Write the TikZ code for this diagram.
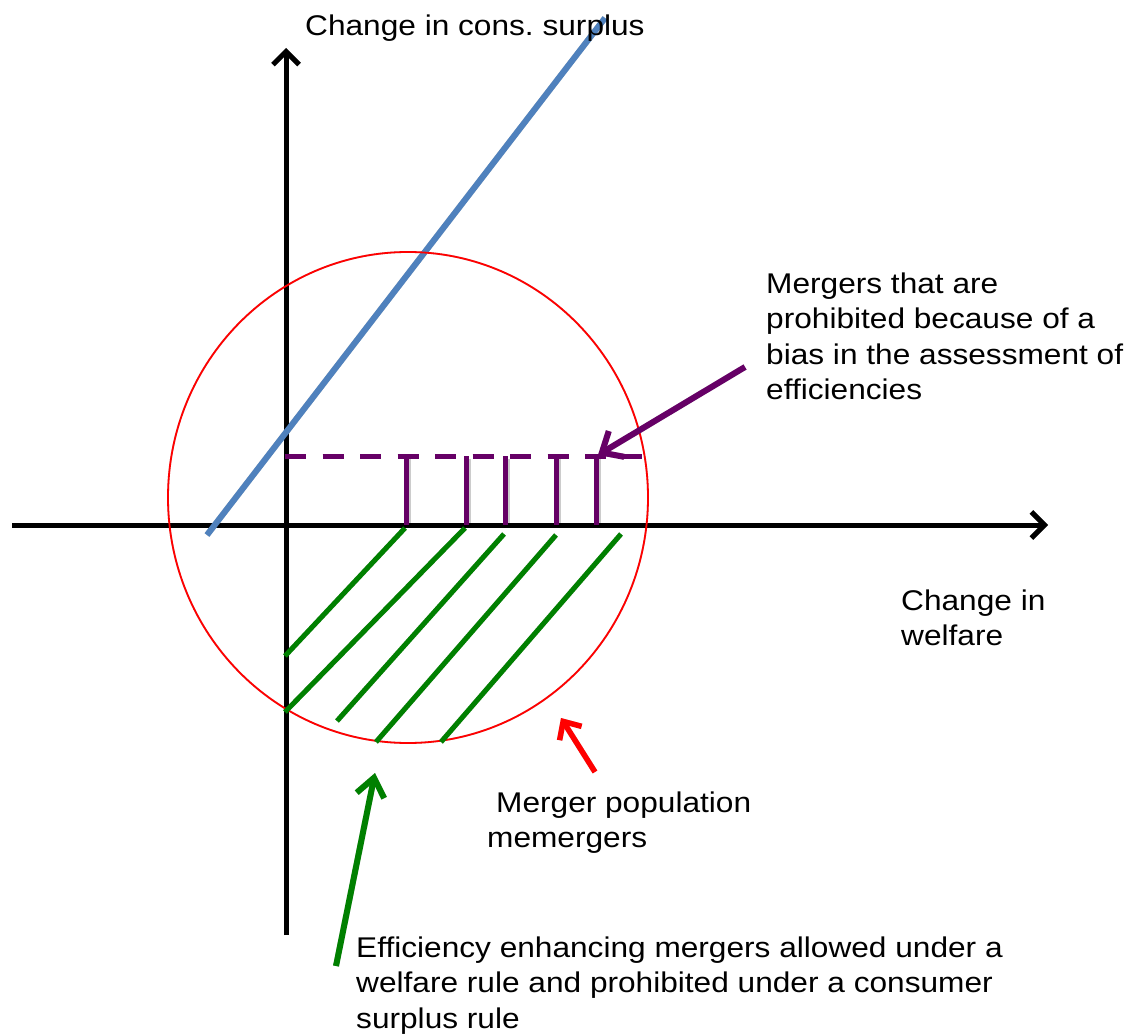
\documentclass[tikz,border=0pt]{standalone}
\usepackage{fontspec}
\setmainfont{Liberation Sans}[FakeStretch=1.11]
\frenchspacing
\usetikzlibrary{arrows.meta}
\definecolor{lineblue}{RGB}{79,129,189}
\definecolor{mpurple}{RGB}{102,0,102}
\definecolor{mgreen}{RGB}{0,128,0}
\newcommand\figlines{%
  \draw[axline,-{Straight Barb[length=13pt,width=26pt]}] (ybot) -- (ytop);
  \draw[axline,-{Straight Barb[length=13pt,width=26pt]}] (xl) -- (xr);
  \draw[blueline] (b1) -- (b2);
  \draw[circline] (C) ellipse [x radius=240, y radius=245.5];
  \draw[purpline,dash pattern=on 21pt off 16.5pt] (d1) -- (d2);
  \foreach \x in {406,466,505,556,596} \draw[purpline] (\x,456) -- (\x,525);
  \draw[greenline] (g1a) -- (g1b);
  \draw[greenline] (g2a) -- (g2b);
  \draw[greenline] (g3a) -- (g3b);
  \draw[greenline] (g4a) -- (g4b);
  \draw[greenline] (g5a) -- (g5b);
  \draw[purpline,line width=6pt,-{Straight Barb[length=17pt,width=30pt]}] (pa) -- (pb);
  \draw[redarrow,-{Straight Barb[length=14pt,width=26pt]}] (ra) -- (rb);
  \draw[greenline,line width=6pt,-{Straight Barb[length=18pt,width=28pt]}] (ga) -- (gb);
}
\begin{document}
\begin{tikzpicture}[x=1pt,y=-1pt,
  axline/.style={draw=black,line width=5pt},
  blueline/.style={draw=lineblue,line width=6pt},
  circline/.style={draw=red,line width=1.8pt},
  purpline/.style={draw=mpurple,line width=5pt},
  greenline/.style={draw=mgreen,line width=5pt},
  redarrow/.style={draw=red,line width=5.5pt},
  lbl/.style={anchor=base west,inner sep=0pt,align=left,font=\fontsize{28.5}{35.5}\selectfont}]
\useasboundingbox[fill=white] (0,0) rectangle (1136,1035);
\coordinate (ytop) at (286,48);
\coordinate (ybot) at (286,935);
\coordinate (xl) at (12,525);
\coordinate (xr) at (1048,525);
\coordinate (b1) at (207,535);
\coordinate (b2) at (605,18);
\coordinate (C) at (408,497.5);
\coordinate (d1) at (285,456);
\coordinate (d2) at (642,456);
\coordinate (g1a) at (405,528); \coordinate (g1b) at (285,656);
\coordinate (g2a) at (465,528); \coordinate (g2b) at (285,712);
\coordinate (g3a) at (504,534); \coordinate (g3b) at (337,721);
\coordinate (g4a) at (556,535); \coordinate (g4b) at (376,742);
\coordinate (g5a) at (621,534); \coordinate (g5b) at (441,742);
\coordinate (pa) at (745,367); \coordinate (pb) at (598,455);
\coordinate (ra) at (595,772); \coordinate (rb) at (561,718);
\coordinate (ga) at (336,966); \coordinate (gb) at (375,773);
% shadows
\begin{scope}[shift={(2,3)},
  axline/.style={draw=gray!40,line width=5pt},
  blueline/.style={draw=gray!40,line width=6pt},
  circline/.style={draw=gray!40,line width=1.8pt},
  purpline/.style={draw=gray!40,line width=5pt},
  greenline/.style={draw=gray!40,line width=5pt},
  redarrow/.style={draw=gray!40,line width=5.5pt}]
\figlines
\end{scope}
\figlines
% labels (anchor = baseline of the last line)
\node[lbl] (tcs) at (305,36) {Change in cons. surplus};
\node[lbl] (tbias) at (766,399.5) {Mergers that are\\prohibited because of a\\bias in the assessment of\\efficiencies};
\node[lbl] (twel) at (901,645.5) {Change in\\welfare};
\node[lbl] (tpop) at (487,847.5) {\hspace*{9pt}Merger population\\memergers};
\node[lbl] (teff) at (356,1028) {Efficiency enhancing mergers allowed under a\\welfare rule and prohibited under a consumer\\surplus rule};
\end{tikzpicture}
\end{document}
